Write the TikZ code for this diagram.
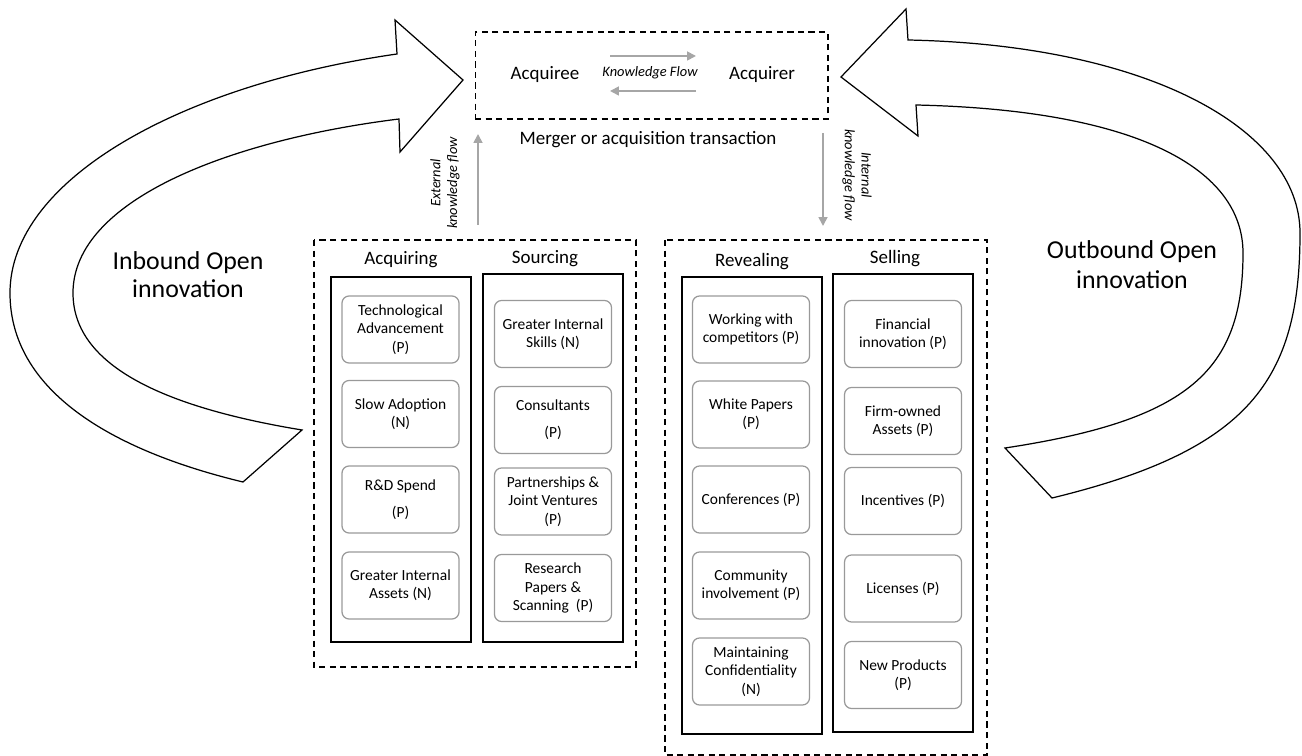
\documentclass[tikz,border=0pt]{standalone}
\usepackage{fontspec}
\setmainfont{Carlito}
\usetikzlibrary{arrows.meta}

\begin{document}
\begin{tikzpicture}[x=0.02cm,y=-0.02cm,
    bigarrow/.style={draw=black, fill=white, line width=0.7pt, line join=miter},
    panel/.style={draw=black, line width=0.6pt, dash pattern=on 3.5pt off 2.5pt},
    column/.style={draw=black, line width=0.9pt},
    item/.style={draw=black!40, rounded corners=4pt, line width=0.7pt, minimum width=2.34cm,
        minimum height=1.34cm, align=center, inner sep=1pt, font=\fontsize{8.8}{10.4}\selectfont},
    head/.style={font=\fontsize{10.8}{13}\selectfont},
    bigtext/.style={font=\fontsize{14.7}{16}\selectfont, align=center},
    flow/.style={draw=black!35, line width=1pt, -{Triangle[width=5pt,length=5pt]}},
    flowlabel/.style={font=\fontsize{8.2}{9.6}\selectfont\itshape, align=center}]
    \useasboundingbox (0,0) rectangle (1302,756);
    % 左侧大箭头
    \draw[bigarrow] (397,54) -- (395,20) -- (463,80) -- (400,152) -- (399,119)
        .. controls (230,140) and (73,200) .. (73,293)
        .. controls (73,360) and (150,405) .. (302,430)
        -- (243,482)
        .. controls (110,450) and (10,390) .. (10,293)
        .. controls (10,180) and (180,85) .. (397,54) -- cycle;
    \node[bigtext] (inbound) at (188,275) {Inbound Open\\innovation};
    % 右侧大箭头
    \draw[bigarrow] (908,40) -- (906,9) -- (841,77) -- (918,136) -- (916,105)
        .. controls (1140,110) and (1243,170) .. (1243,253)
        .. controls (1243,370) and (1190,420) .. (1005,448)
        -- (1052,498)
        .. controls (1250,450) and (1300,380) .. (1300,233)
        .. controls (1300,130) and (1150,45) .. (908,40) -- cycle;
    \node[bigtext, font=\fontsize{14.7}{17}\selectfont] (outbound) at (1132,265) {Outbound Open\\innovation};
    % 并购交易
    \node[panel, minimum width=7.06cm, minimum height=1.74cm] (deal) at (651.5,75.5) {};
    \node[head] (acquiree) at (545,75) {Acquiree};
    \node[head] (acquirer) at (762,75) {Acquirer};
    \node[flowlabel] (kflow) at (650,73) {Knowledge Flow};
    \coordinate (kfa) at (610,56);
    \coordinate (kfb) at (696,56);
    \coordinate (kfc) at (696,91);
    \coordinate (kfd) at (610,91);
    \draw[flow] (kfa) -- (kfb);
    \draw[flow] (kfc) -- (kfd);
    \node[head] (merger) at (648,140) {Merger or acquisition transaction};
    % 知识流
    \coordinate (ext0) at (478,225);
    \coordinate (ext1) at (478,134);
    \draw[flow] (ext0) -- (ext1);
    \node[flowlabel, rotate=90] (extlabel) at (445,183) {External\\knowledge flow};
    \coordinate (int0) at (823,133);
    \coordinate (int1) at (823,226);
    \draw[flow] (int0) -- (int1);
    \node[flowlabel, rotate=-90] (intlabel) at (857,175) {Internal\\knowledge flow};
    % 左侧虚线框
    \draw[panel] (314,240) rectangle (636,667);
    \draw[column] (331,277) rectangle (471,642);
    \draw[column] (483,274) rectangle (623,642);
    \node[head] (acquiring) at (401,260) {Acquiring};
    \node[head] (sourcing) at (545,259) {Sourcing};
    \node[item] (acq1) at (400.5,329.5) {Technological\\Advancement\\(P)};
    \node[item] (acq2) at (400.5,414) {Slow Adoption\\(N)};
    \node[item] (acq3) at (400.5,499.5) {R\&D Spend\\[5pt](P)};
    \node[item] (acq4) at (400.5,585.5) {Greater Internal\\Assets (N)};
    \node[item] (src1) at (553,334) {Greater Internal\\Skills (N)};
    \node[item] (src2) at (553,420) {Consultants\\[5pt](P)};
    \node[item] (src3) at (553,501.5) {Partnerships \&\\Joint Ventures\\(P)};
    \node[item] (src4) at (553,588) {Research\\Papers \&\\Scanning~~(P)};
    % 右侧虚线框
    \draw[panel] (665,240) rectangle (987,755);
    \draw[column] (682,277) rectangle (822,734);
    \draw[column] (833,274) rectangle (973,732);
    \node[head] (revealing) at (752,262) {Revealing};
    \node[head] (selling) at (895,259) {Selling};
    \node[item] (rev1) at (751,329.5) {Working with\\competitors (P)};
    \node[item] (rev2) at (751,414.5) {White Papers\\(P)};
    \node[item] (rev3) at (751,499.5) {Conferences (P)};
    \node[item] (rev4) at (751,585.5) {Community\\involvement (P)};
    \node[item] (rev5) at (751,671.5) {Maintaining\\Confidentiality\\(N)};
    \node[item] (sel1) at (903,334) {Financial\\innovation (P)};
    \node[item] (sel2) at (903,421) {Firm-owned\\Assets (P)};
    \node[item] (sel3) at (903,501) {Incentives (P)};
    \node[item] (sel4) at (903,588.5) {Licenses (P)};
    \node[item] (sel5) at (903,675) {New Products\\(P)};
\end{tikzpicture}
\end{document}
